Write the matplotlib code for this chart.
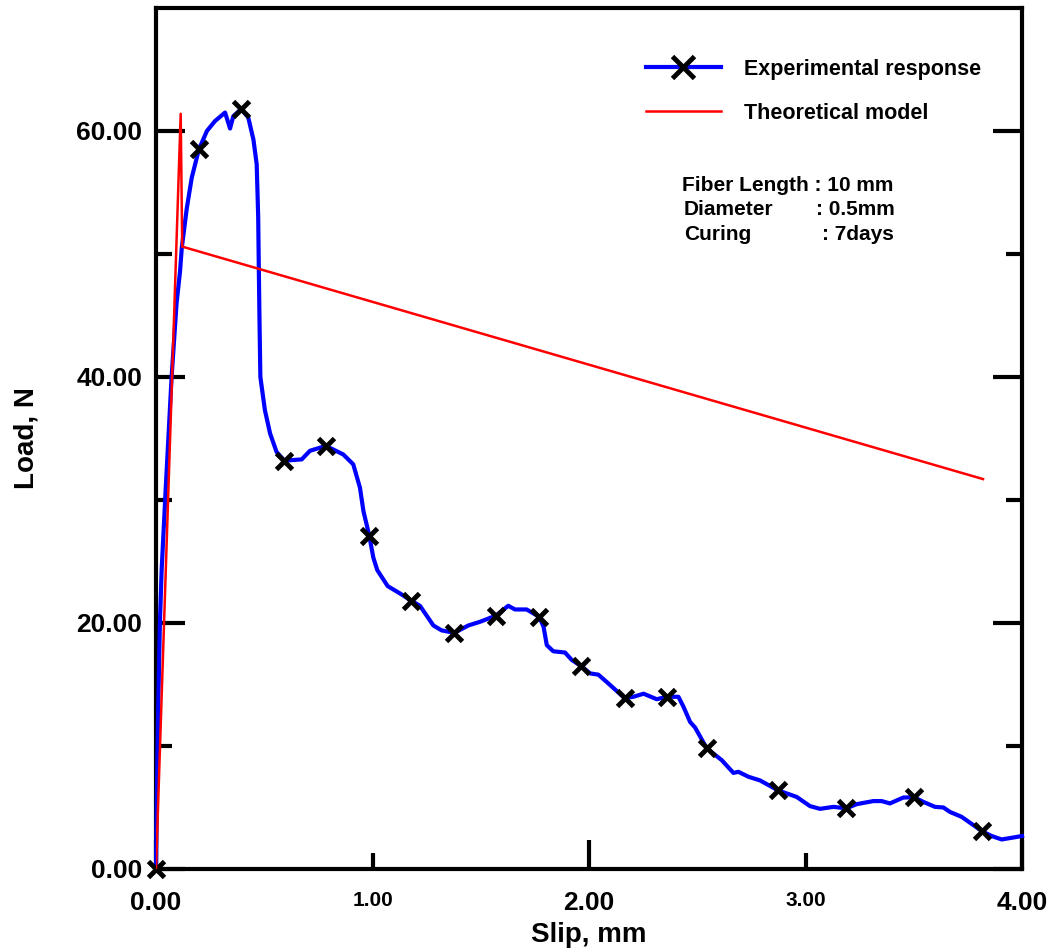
import matplotlib

matplotlib.use("Agg")
import matplotlib.pyplot as plt
from matplotlib.ticker import FixedLocator, FormatStrFormatter, NullFormatter

plt.rcParams["font.family"] = ["Liberation Sans", "DejaVu Sans"]
plt.rcParams["font.weight"] = "bold"

EXP_SLIP = [
    0.000, 0.004, 0.010, 0.018, 0.026, 0.045, 0.072, 0.095, 0.111, 0.119,
    0.142, 0.165, 0.198, 0.235, 0.272, 0.319, 0.342, 0.357, 0.394, 0.426,
    0.450, 0.465, 0.472, 0.475, 0.478, 0.482, 0.503, 0.527, 0.557, 0.593,
    0.673, 0.711, 0.785, 0.865, 0.911, 0.942, 0.958, 0.985, 1.004, 1.022,
    1.070, 1.127, 1.180, 1.219, 1.281, 1.319, 1.378, 1.443, 1.497, 1.570,
    1.627, 1.658, 1.712, 1.770, 1.790, 1.805, 1.835, 1.889, 1.920, 1.963,
    2.005, 2.043, 2.082, 2.164, 2.205, 2.252, 2.313, 2.358, 2.413, 2.436,
    2.467, 2.490, 2.544, 2.613, 2.667, 2.690, 2.736, 2.790, 2.872, 2.959,
    3.021, 3.067, 3.129, 3.189, 3.236, 3.313, 3.352, 3.390, 3.452, 3.502,
    3.545, 3.598, 3.637, 3.667, 3.721, 3.817, 3.860, 3.906, 3.960, 4.000,
]
EXP_LOAD = [
    0.0, 6.0, 13.0, 20.0, 24.3, 31.0, 40.0, 46.0, 48.6, 50.5,
    53.7, 56.2, 58.5, 60.0, 60.8, 61.5, 60.2, 61.2, 61.8, 61.1,
    59.3, 57.3, 53.0, 48.6, 44.6, 40.0, 37.3, 35.4, 33.9, 33.2,
    33.3, 34.0, 34.4, 33.7, 32.9, 31.0, 29.1, 27.1, 25.3, 24.3,
    23.0, 22.4, 21.8, 21.4, 19.8, 19.4, 19.2, 19.8, 20.1, 20.6,
    21.4, 21.1, 21.1, 20.5, 19.7, 18.2, 17.7, 17.6, 17.0, 16.5,
    15.9, 15.8, 15.2, 13.9, 14.0, 14.25, 13.8, 14.0, 14.0, 13.2,
    11.95, 11.5, 9.8, 8.85, 7.81, 7.9, 7.5, 7.2, 6.4, 5.86,
    5.11, 4.89, 5.05, 4.93, 5.27, 5.52, 5.52, 5.33, 5.81, 5.83,
    5.45, 5.05, 5.0, 4.64, 4.24, 3.05, 2.68, 2.40, 2.56, 2.68,
]
# points of the experimental curve that carry an "x" marker
EXP_MARKED = [0, 12, 18, 29, 32, 37, 42, 46, 49, 53, 59, 63, 67, 72, 78, 83, 89, 95]

# Theoretical model
THEO_SLIP = [0.0, 0.114, 0.121, 3.82]
THEO_LOAD = [0.0, 61.4, 50.6, 31.7]

ANNOT_LABELS = ["Fiber Length : 10 mm", "Diameter", "Curing"]
ANNOT_VALUES = ["", ": 0.5mm", ": 7days"]

X_MAJOR = [0, 2, 4]
X_MINOR = [1, 3]
Y_MAJOR = [0, 20, 40, 60]
Y_MINOR = [10, 30, 50]


def main() -> None:
    fig = plt.figure(figsize=(10.57, 9.52), dpi=100)
    ax = fig.add_axes([0.1476, 0.0872, 0.8193, 0.9044])

    ax.plot(
        EXP_SLIP, EXP_LOAD,
        color="#0000ff", lw=3.0,
        marker="x", markevery=EXP_MARKED, markersize=11,
        markeredgewidth=3.5, markeredgecolor="black",
        label="Experimental response", clip_on=False, zorder=3,
    )
    ax.plot(THEO_SLIP, THEO_LOAD, color="#ff0000", lw=1.8,
            label="Theoretical model", zorder=4)

    ax.set_xlim(0, 4)
    ax.set_ylim(0, 70)

    ax.xaxis.set_major_locator(FixedLocator(X_MAJOR))
    ax.xaxis.set_minor_locator(FixedLocator(X_MINOR))
    ax.xaxis.set_major_formatter(FormatStrFormatter("%.2f"))
    ax.xaxis.set_minor_formatter(FormatStrFormatter("%.2f"))
    ax.yaxis.set_major_locator(FixedLocator(Y_MAJOR))
    ax.yaxis.set_minor_locator(FixedLocator(Y_MINOR))
    ax.yaxis.set_major_formatter(FormatStrFormatter("%.2f"))
    ax.yaxis.set_minor_formatter(NullFormatter())

    for side in ax.spines.values():
        side.set_linewidth(3.0)

    ax.tick_params(which="both", direction="in", width=3.0,
                   left=True, right=True, bottom=True, top=False)
    ax.tick_params(which="major", length=21)
    ax.tick_params(which="minor", length=11.5)
    ax.tick_params(axis="x", which="major", labelsize=19, pad=16)
    ax.tick_params(axis="x", which="minor", labelsize=15, pad=16)
    ax.tick_params(axis="y", which="major", labelsize=19, pad=10)
    for lab in ax.get_xticklabels(which="both") + ax.get_yticklabels():
        lab.set_fontweight("bold")

    ax.set_xlabel("Slip, mm", fontsize=20, fontweight="bold")
    ax.set_ylabel("Load, N", fontsize=20, fontweight="bold")
    ax.xaxis.set_label_coords(0.5, -0.061)
    ax.yaxis.set_label_coords(-0.134, 0.5)

    leg = ax.legend(
        loc="upper left", bbox_to_anchor=(0.5531, 0.9535),
        frameon=False, fontsize=15.5, borderpad=0,
        handlelength=3.5, handletextpad=1.07, labelspacing=1.07,
        markerscale=1.4,
    )
    for txt in leg.get_texts():
        txt.set_fontweight("bold")

    label_pos = [(0.6074, 0.7933), (0.6097, 0.7654), (0.6097, 0.7375)]
    value_x = [None, 0.7621, 0.7691]
    for lab, val, (lx, ly), vx in zip(ANNOT_LABELS, ANNOT_VALUES, label_pos, value_x):
        ax.text(lx, ly, lab, transform=ax.transAxes, fontsize=15,
                fontweight="bold", va="center", ha="left")
        if val:
            ax.text(vx, ly, val, transform=ax.transAxes, fontsize=15,
                    fontweight="bold", va="center", ha="left")

    fig.savefig("out.png", dpi=100)
    plt.close(fig)


if __name__ == "__main__":
    main()
